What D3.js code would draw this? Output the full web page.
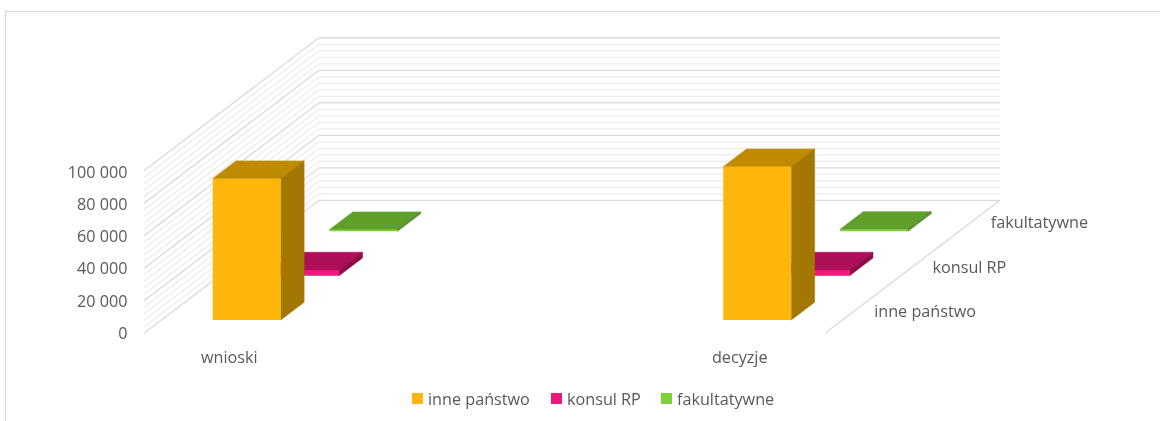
<!DOCTYPE html>
<html><head><meta charset="utf-8">
<script src="https://cdn.jsdelivr.net/npm/d3@7"></script>
<style>
html,body{margin:0;padding:0;background:#fff;overflow:hidden}
svg{display:block;filter:blur(0.35px)}
text{font-family:"Open Sans",sans-serif;fill:#595959;font-size:16.2px}
</style></head><body>
<svg id="c" width="1160" height="421"></svg>
<script>
const categories = ["wnioski", "decyzje"];
const seriesNames = ["inne państwo", "konsul RP", "fakultatywne"];
const inne = [87000, 94300];
const konsul = [3500, 3500];
const fakultatywne = [1000, 1200];
const yTicks = [0, 20000, 40000, 60000, 80000, 100000];
const minorStep = 4000;
const seriesColors = [
  {front:"#ffb60a", top:"#c08a00", side:"#a37703"},
  {front:"#f0177a", top:"#ad0f59", side:"#8f0c4a"},
  {front:"#7ed137", top:"#5fa02b", side:"#50872a"}
];
const legendSwatchX = [412, 551, 661];

const seriesValues = [inne, konsul, fakultatywne];
const svg = d3.select("#c");

// chart frame
svg.append("path").attr("d","M5.5 421V11.5H1160").attr("fill","none").attr("stroke","#d9d9d9").attr("stroke-width",1.3);

// oblique projection
const x0 = 144, x1 = 825, floorY = 333.3, dX = 175, dY = 133;
const xCat = d3.scalePoint().domain(categories).range([x0, x1]).padding(0.167);
const yVal = d3.scaleLinear().domain([0, 100000]).range([0, 162.5]);
const zSer = d3.scaleBand().domain(seriesNames).range([0, 1]).paddingInner(0.6).paddingOuter(0.3);
const project = (x, v, z) => [x + dX * z, floorY - yVal(v) - dY * z];
const pts = a => a.map(p => p.join(",")).join(" ");

// walls: gridlines
const grid = svg.append("g").attr("fill","none");
const minor = d3.range(0, 100000 + 1, minorStep);
minor.forEach(v => {
  const major = v % 20000 === 0;
  const a = project(x0, v, 0), b = project(x0, v, 1), c = project(x1, v, 1);
  grid.append("polyline").attr("points", pts([a, b, c]))
    .attr("stroke", major ? "#d9d9d9" : "#ececec").attr("stroke-width", 1.3);
});
// floor right edge
const fr = [project(x1,0,0), project(x1,0,1)];
grid.append("polyline").attr("points", pts(fr)).attr("stroke","#d9d9d9").attr("stroke-width",1.3);

// bars, back to front
const barW = 68;
[2,1,0].forEach(si => {
  const name = seriesNames[si], col = seriesColors[si];
  const z0 = zSer(name), z1 = z0 + zSer.bandwidth();
  categories.forEach((cat, ci) => {
    const v = seriesValues[si][ci];
    const l = xCat(cat) - barW/2, r = xCat(cat) + barW/2;
    const g = svg.append("g").attr("stroke-width",0.6);
    g.append("polygon").attr("fill",col.top).attr("stroke",col.top).attr("points",pts([project(l,v,z0),project(r,v,z0),project(r,v,z1),project(l,v,z1)]));
    g.append("polygon").attr("fill",col.side).attr("stroke",col.side).attr("points",pts([project(r,0,z0),project(r,v,z0),project(r,v,z1),project(r,0,z1)]));
    g.append("polygon").attr("fill",col.front).attr("points",pts([project(l,0,z0),project(r,0,z0),project(r,v,z0),project(l,v,z0)]));
  });
});

// y axis labels
const fmt = v => d3.format(",")(v).replace(/,/g, " ");
yTicks.forEach(v => {
  svg.append("text").attr("x",127.5).attr("y",floorY - yVal(v) * 0.99 - 0.5).attr("text-anchor","end")
    .attr("dominant-baseline","central").text(fmt(v));
});
// category labels
categories.forEach(c => {
  svg.append("text").attr("x",xCat(c)).attr("y",357).attr("text-anchor","middle")
    .attr("dominant-baseline","central").text(c);
});
// depth labels
seriesNames.forEach(n => {
  const z = zSer(n) + zSer.bandwidth()/2;
  const p = project(x1, 0, z);
  svg.append("text").attr("x",p[0]+20).attr("y",p[1]).attr("dominant-baseline","central").text(n);
});
// legend
seriesNames.forEach((n,i) => {
  svg.append("rect").attr("x",legendSwatchX[i]).attr("y",393).attr("width",11).attr("height",11).attr("fill",seriesColors[i].front);
  svg.append("text").attr("x",legendSwatchX[i]+16).attr("y",399).attr("dominant-baseline","central").text(n);
});
</script>
</body></html>
